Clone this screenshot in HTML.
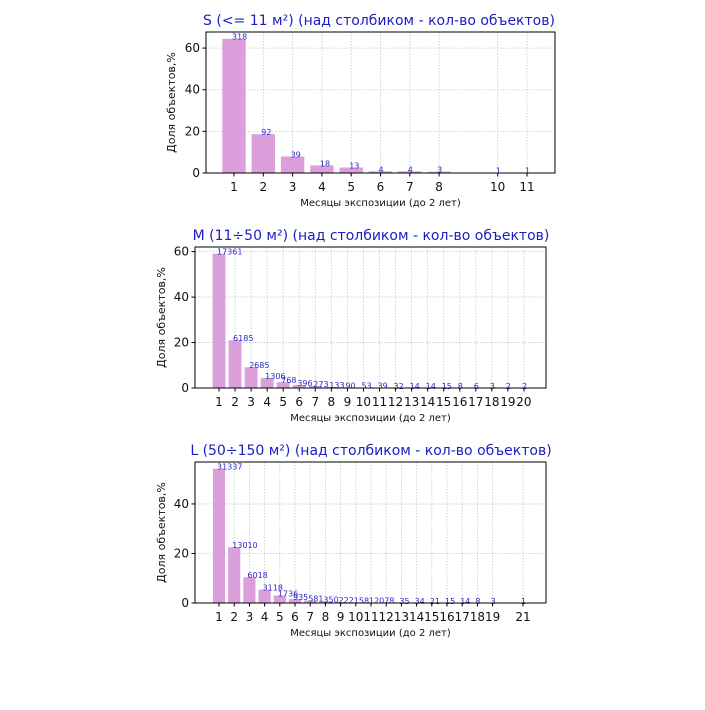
<!DOCTYPE html>
<html><head><meta charset="utf-8"><style>
body{margin:0;background:#fff;}
svg text{font-family:"DejaVu Sans","Liberation Sans",sans-serif;}
</style></head><body>
<svg id="svg" width="705" height="705" viewBox="0 0 705 705" xmlns="http://www.w3.org/2000/svg"></svg>
<script>
// Chart S data
const sMonths = [1,2,3,4,5,6,7,8,10,11];
const sCounts = [318,92,39,18,13,4,4,3,1,1];
const sTicks = [1,2,3,4,5,6,7,8,10,11];
const sYTicks = [0,20,40,60];
// Chart M data
const mMonths = [1,2,3,4,5,6,7,8,9,10,11,12,13,14,15,16,17,18,19,20];
const mCounts = [17361,6185,2685,1306,768,396,273,133,90,53,39,32,14,14,15,8,6,3,2,2];
const mTicks = [1,2,3,4,5,6,7,8,9,10,11,12,13,14,15,16,17,18,19,20];
const mYTicks = [0,20,40,60];
// Chart L data
const lMonths = [1,2,3,4,5,6,7,8,9,10,11,12,13,14,15,16,17,18,19,21];
const lCounts = [31337,13010,6018,3118,1736,935,581,350,222,158,120,78,35,34,21,15,14,8,3,1];
const lTicks = [1,2,3,4,5,6,7,8,9,10,11,12,13,14,15,16,17,18,19,21];
const lYTicks = [0,20,40];

const NS="http://www.w3.org/2000/svg";
const svg=document.getElementById('svg');
function mk(tag,attrs,parent){const e=document.createElementNS(NS,tag);for(const k in attrs)e.setAttribute(k,attrs[k]);(parent||svg).appendChild(e);return e;}

function chart(id,title,months,counts,ticks,yticks,box,tickStart){
  const total=counts.reduce((a,b)=>a+b,0);
  const pct=counts.map(c=>c/total*100);
  const ymax=Math.max(...pct)*1.05;
  const g=mk('g',{});
  
  
  const xScale=v=>box.t1+(v-1)*box.step;
  const yScale=v=>box.bottom-(v/ymax)*(box.bottom-box.top);
  // grid
  ticks.forEach(t=>{const l=mk('line',{x1:xScale(t),x2:xScale(t),y1:box.top,y2:box.bottom,stroke:'#c8c8c8','stroke-width':0.8,'stroke-dasharray':'1.5,1.5'},g);
    });
  yticks.forEach(t=>{const y=yScale(t);const l=mk('line',{x1:box.left,x2:box.right,y1:y,y2:y,stroke:'#c8c8c8','stroke-width':0.8,'stroke-dasharray':'1.5,1.5'},g);
    });
  // bars
  months.forEach((m,i)=>{
    const w=0.8*box.step;const x=xScale(m)-w/2;const y=yScale(pct[i]);
    const r=mk('rect',{x:x,y:y,width:w,height:Math.max(0,box.bottom-y),fill:'#dba0db'},g);
    
    const t=mk('text',{x:xScale(m)-2,y:y+1,'font-size':8,fill:'#2a2ac8'},g);
    t.textContent=counts[i];
    
  });
  // frame
  const f=mk('rect',{x:box.left,y:box.top,width:box.right-box.left,height:box.bottom-box.top,fill:'none',stroke:'#000','stroke-width':1},g);
  
  // x ticks
  ticks.forEach(t=>{const x=xScale(t);mk('line',{x1:x,x2:x,y1:box.bottom,y2:box.bottom+3.5,stroke:'#000'},g);
    const tx=mk('text',{x:x,y:box.bottom+18,'font-size':12,'text-anchor':'middle',fill:'#111'},g);tx.textContent=t;
    });
  yticks.forEach(t=>{const y=yScale(t);mk('line',{x1:box.left-3.5,x2:box.left,y1:y,y2:y,stroke:'#000'},g);
    const tx=mk('text',{x:box.left-6,y:y+4,'font-size':12,'text-anchor':'end',fill:'#111'},g);tx.textContent=t;
    });
  const xl=mk('text',{x:(box.left+box.right)/2,y:box.bottom+33,'font-size':10,'text-anchor':'middle',fill:'#111'},g);
  xl.textContent='Месяцы экспозиции (до 2 лет)';
  
  const yl=mk('text',{x:0,y:0,'font-size':11,'text-anchor':'middle',fill:'#111',transform:`translate(${box.ylabX},${(box.top+box.bottom)/2}) rotate(-90)`},g);
  yl.textContent='Доля объектов,%';
  
  const ti=mk('text',{x:box.titleX,y:box.top-7,'font-size':14,'text-anchor':'middle',fill:'#1c1cc4'},g);
  ti.textContent=title;
  
}
chart('s','S (<= 11 м²) (над столбиком - кол-во объектов)',sMonths,sCounts,sTicks,sYTicks,
  {left:206,right:555,top:32,bottom:173,t1:234,step:29.3,ylabX:175,titleX:379});
chart('m','M (11÷50 м²) (над столбиком - кол-во объектов)',mMonths,mCounts,mTicks,mYTicks,
  {left:195,right:546,top:247,bottom:388,t1:219,step:16.05,ylabX:165,titleX:371});
chart('l','L (50÷150 м²) (над столбиком - кол-во объектов)',lMonths,lCounts,lTicks,lYTicks,
  {left:195,right:546,top:462,bottom:603,t1:219,step:15.2,ylabX:165,titleX:371});
</script>
</body></html>
